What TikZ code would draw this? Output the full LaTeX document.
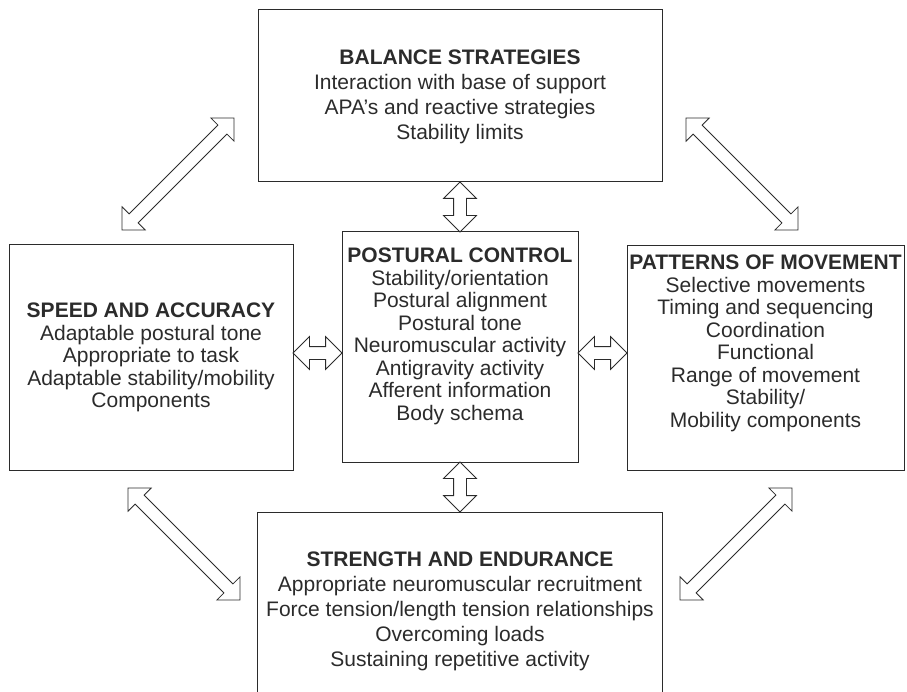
\documentclass[tikz,border=0pt]{standalone}
\usepackage{fontspec}
\setmainfont{Liberation Sans}
\usetikzlibrary{positioning,calc,shapes.arrows}
\definecolor{inkgray}{HTML}{2B2B2B}
\tikzset{
    block/.style={
        draw=inkgray,
        line width=1pt,
        rectangle,
        inner sep=0pt,
        outer sep=0pt
    },
    blocktext/.style={
        align=center,
        inner sep=0pt,
        text=inkgray,
        font=\fontsize{21}{25}\selectfont
    },
    tighttext/.style={
        blocktext,
        font=\fontsize{21}{22.5}\selectfont
    },
    hollow/.style={
        draw=inkgray,
        line width=0.8pt,
        fill=white,
        double arrow,
        double arrow head extend=10pt,
        inner xsep=0pt,
        inner ysep=6pt,
        outer sep=0pt
    },
}
% hollow two-headed arrow between two points
\newcommand{\hollowlink}[3]{%
    \path let \p1=($(#3)-(#2)$) in
        node[hollow, minimum height={veclen(\x1,\y1)}, rotate={atan2(\y1,\x1)}] (#1) at ($(#2)!0.5!(#3)$) {};}

\begin{document}
\begin{tikzpicture}
    \useasboundingbox (0pt,0pt) rectangle (907pt,-692pt);

    % blocks
    \node[block, minimum width=236pt, minimum height=230pt, anchor=north] (posture) at (460pt,-232pt) {};
    \node[block, minimum width=404pt, minimum height=172pt, above=50pt of posture] (balance) {};
    \node[block, minimum width=405pt, minimum height=190pt, below=50pt of posture] (strength) {};
    \node[block, minimum width=284pt, minimum height=225pt, left=49pt of posture.north west, anchor=north east, yshift=-13pt] (speed) {};
    \node[block, minimum width=277pt, minimum height=224pt, right=49pt of posture.north east, anchor=north west, yshift=-14pt] (patterns) {};

    % texts
    \node[blocktext, below=40pt of balance.north] (balancetext) {\textbf{BALANCE STRATEGIES}\\Interaction with base of support\\APA's and reactive strategies\\Stability limits};
    \node[tighttext, below=16pt of posture.north] (posturetext) {\textbf{POSTURAL CONTROL}\\Stability/orientation\\Postural alignment\\Postural tone\\Neuromuscular activity\\Antigravity activity\\Afferent information\\Body schema};
    \node[tighttext, below=58pt of speed.north] (speedtext) {\textbf{SPEED AND ACCURACY}\\Adaptable postural tone\\Appropriate to task\\Adaptable stability/mobility\\Components};
    \node[tighttext, below=9pt of patterns.north] (patternstext) {\textbf{PATTERNS OF MOVEMENT}\\Selective movements\\Timing and sequencing\\Coordination\\Functional\\Range of movement\\Stability/\\Mobility components};
    \node[blocktext, below=40pt of strength.north] (strengthtext) {\textbf{STRENGTH AND ENDURANCE}\\Appropriate neuromuscular recruitment\\Force tension/length tension relationships\\Overcoming loads\\Sustaining repetitive activity};

    % ends of the side links
    \coordinate (speedR) at ([yshift=-108pt]speed.north east);
    \coordinate (postureL) at (speedR -| posture.west);
    \coordinate (postureR) at (speedR -| posture.east);
    \coordinate (patternsL) at (speedR -| patterns.west);
    \coordinate (nwA) at (234pt,-118pt);
    \coordinate (nwB) at (122pt,-230pt);
    \coordinate (neA) at (686pt,-118pt);
    \coordinate (neB) at (798pt,-230pt);
    \coordinate (swA) at (128pt,-488pt);
    \coordinate (swB) at (240pt,-600pt);
    \coordinate (seA) at (792pt,-488pt);
    \coordinate (seB) at (680pt,-600pt);

    % links
    \hollowlink{upper}{balance.south}{posture.north}
    \hollowlink{lower}{posture.south}{strength.north}
    \hollowlink{leftlink}{speedR}{postureL}
    \hollowlink{rightlink}{postureR}{patternsL}
    \hollowlink{nwlink}{nwA}{nwB}
    \hollowlink{nelink}{neA}{neB}
    \hollowlink{swlink}{swA}{swB}
    \hollowlink{selink}{seA}{seB}
\end{tikzpicture}
\end{document}
